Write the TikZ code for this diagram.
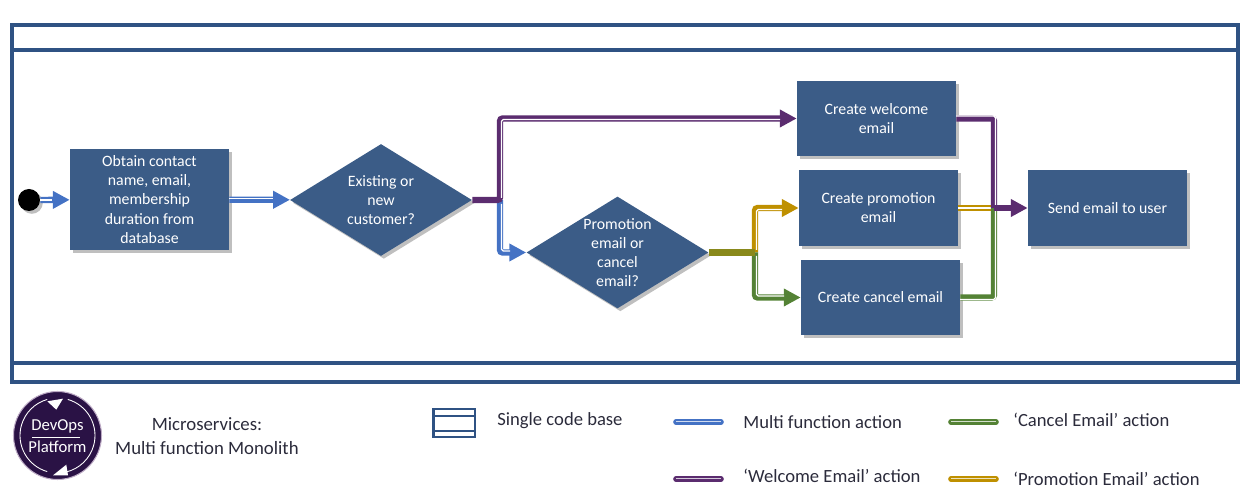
\documentclass[tikz,border=0pt]{standalone}
\usepackage{fontspec}
\setmainfont{Carlito}
\usetikzlibrary{shapes.geometric, shadows, arrows.meta}

\definecolor{framecol}{HTML}{2F5283}
\definecolor{boxcol}{HTML}{3B5C87}
\definecolor{multicol}{HTML}{4472C4}
\definecolor{welcomecol}{HTML}{5B2C6F}
\definecolor{promocol}{HTML}{BF9000}
\definecolor{cancelcol}{HTML}{548235}
\definecolor{logocol}{HTML}{2A1245}
\definecolor{inkcol}{HTML}{2B2B3B}

\tikzset{
    softshadow/.style={drop shadow={shadow xshift=1.6pt, shadow yshift=-1.6pt, opacity=0.25, fill=black}},
    action/.style={fill=boxcol, text=white, align=center, font=\fontsize{9}{10.9}\selectfont, inner sep=0pt, softshadow},
    decision/.style={diamond, fill=boxcol, minimum width=3.64cm, minimum height=2.24cm, inner sep=0pt, softshadow},
    decisiontext/.style={text=white, align=center, font=\fontsize{9}{10.9}\selectfont, inner sep=0pt},
    legendtext/.style={text=inkcol, anchor=west, font=\fontsize{10.6}{12}\selectfont, inner sep=0pt},
    flow/.style={draw=#1, line width=3.6pt, rounded corners=1.5pt},
    flowtip/.style={flow=#1, -{Triangle[length=9.6pt, width=9.6pt]}},
    stripe/.style={draw=white, line width=0.7pt, rounded corners=1pt}
}

\begin{document}
\begin{tikzpicture}[x=0.02cm, y=-0.02cm]
    \useasboundingbox (0,0) rectangle (1251,502);
    % Single code base frame
    \draw[framecol, line width=2.3pt] (12,25) rectangle (1238,382);
    \draw[framecol, line width=2.3pt] (12,50) -- (1238,50);
    \draw[framecol, line width=2.3pt] (12,363) -- (1238,363);

    % steps
    \node[circle, fill=black, minimum size=0.44cm, inner sep=0pt, softshadow] (start) at (29,200) {};
    \node[action, minimum width=3.18cm, minimum height=2.02cm] (obtain) at (149.5,199.5) {Obtain contact\\name, email,\\membership\\duration from\\database};
    \node[decision] (existing) at (381,200) {};
    \node[decisiontext] (existingtext) at (381,200) {Existing or\\new\\customer?};
    \node[decision] (choice) at (617.5,252.5) {};
    \node[decisiontext] (choicetext) at (617.5,252.5) {Promotion\\email or\\cancel\\email?};
    \node[action, minimum width=3.18cm, minimum height=1.5cm] (welcome) at (876.5,118.5) {Create welcome\\email};
    \node[action, minimum width=3.18cm, minimum height=1.52cm] (promotion) at (878.5,208) {Create promotion\\email};
    \node[action, minimum width=3.18cm, minimum height=1.5cm] (cancel) at (880.5,297.5) {Create cancel email};
    \node[action, minimum width=3.18cm, minimum height=1.52cm] (send) at (1107.5,208) {Send email to user};

    % junctions
    \coordinate (splitnew) at (500,200);
    \coordinate (splitmail) at (755,252.5);
    \coordinate (merge) at (994,208);

    % multi function links
    \draw[flowtip=multicol] (start) -- (obtain);
    \draw[stripe] (40,200) -- (52,200);
    \draw[flowtip=multicol] (obtain) -- (existing);
    \draw[stripe] (229,198.5) -- (273,198.5);
    \draw[flowtip=multicol] (splitnew) |- (choice);
    \draw[stripe] (501.5,204) |- (510,251);

    % welcome links
    \draw[flowtip=welcomecol] (existing.east) -- (splitnew) |- (welcome.west);
    \draw[stripe] (501.5,198) |- (780,119.5);

    % promotion and cancel links
    \draw[flowtip=promocol] (splitmail) |- (promotion.west);
    \draw[stripe] (756.5,250) |- (782,209.5);
    \draw[flowtip=cancelcol] (splitmail) |- (cancel.west);
    \draw[stripe] (756.5,256) |- (784,296);
    \draw[flow=promocol!50!cancelcol] (choice.east) -- (splitmail);

    % links into send
    \draw[flow=promocol] (promotion.east) -- (merge);
    \draw[draw=white, line width=0.7pt] (958,208) -- (992,208);
    \draw[flow=cancelcol] (cancel.east) -| (merge);
    \draw[stripe] (960,299.5) -| (995.5,210);
    \draw[flow=welcomecol] (welcome.east) -| (merge);
    \draw[stripe] (956,116) -| (995.5,206);
    \draw[flowtip=welcomecol] (merge) -- (send);

    % logo
    \fill[logocol] (57.5,435.5) circle (44);
    \draw[welcomecol!40, line width=0.6pt] (57.5,435.5) circle (44);
    \draw[white, line width=0.5pt] (57.5,435.5) ++(-74:37.5) arc (-74:77:37.5);
    \draw[white, line width=0.5pt] (57.5,435.5) ++(106:37.5) arc (106:254:37.5);
    \fill[white] (47.3,401.3) -- (63,398.7) -- (56.3,409.7) -- cycle;
    \fill[white] (66.3,464.7) -- (68,475.3) -- (53,475.3) -- cycle;
    \node[text=white, inner sep=0pt, font=\fontsize{9.5}{11}\selectfont] (logodev) at (57.5,426) {DevOps};
    \node[text=white, inner sep=0pt, font=\fontsize{9.5}{11}\selectfont] (logoplat) at (57.5,447) {Platform};
    \draw[white, line width=0.5pt] (32,437) -- (80,437);

    % title
    \node[text=inkcol, inner sep=0pt, font=\fontsize{10.7}{13.6}\selectfont, align=center] (title) at (207,436) {Microservices:\\Multi function Monolith};

    % legend
    \draw[framecol, line width=1.4pt] (433.5,409) rectangle (475,437);
    \draw[framecol, line width=1.4pt] (433.5,416) -- (475,416);
    \draw[framecol, line width=1.4pt] (433.5,431) -- (475,431);
    \foreach \keyx/\keyy/\keycol in {676/422/multicol, 676/479/welcomecol, 951/422/cancelcol, 951/479/promocol} {
        \draw[\keycol, line width=3.2pt, line cap=round] (\keyx,\keyy) -- ++(45,0);
        \draw[white, opacity=0.75, line width=0.7pt] (\keyx,\keyy-0.7) -- ++(45,0);
    }
    \node[legendtext] (keycode) at (497,421) {Single code base};
    \node[legendtext] (keymulti) at (743,422) {Multi function action};
    \node[legendtext] (keywelcome) at (743,476) {‘Welcome Email’ action};
    \node[legendtext] (keycancel) at (1013,420) {‘Cancel Email’ action};
    \node[legendtext] (keypromo) at (1013,479) {‘Promotion Email’ action};
\end{tikzpicture}
\end{document}
